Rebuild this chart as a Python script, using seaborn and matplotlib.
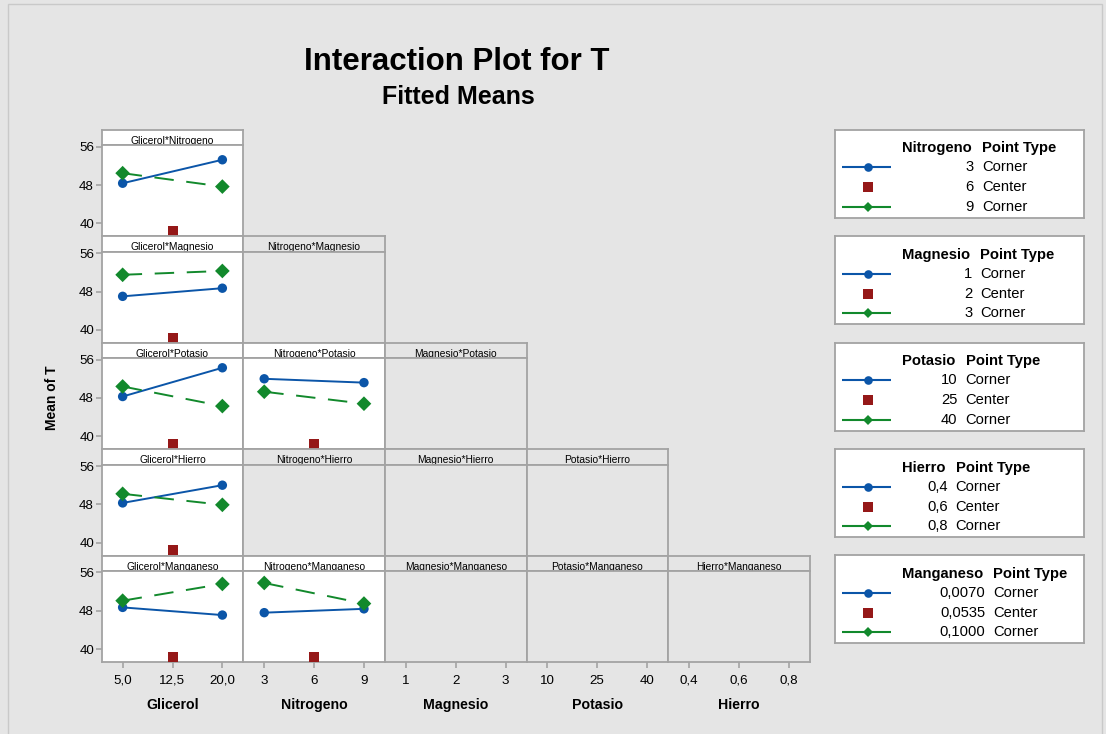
import matplotlib
matplotlib.use("Agg")
import matplotlib.pyplot as plt
import numpy as np
import pandas as pd
import seaborn as sns
from matplotlib.patches import Rectangle

# ---- factor levels and tick text -------------------------------------------
glicerol_levels = [5.0, 12.5, 20.0]
nitrogeno_levels = [3, 6, 9]
magnesio_levels = [1, 2, 3]
potasio_levels = [10, 25, 40]
hierro_levels = [0.4, 0.6, 0.8]
manganeso_levels = [0.0070, 0.0535, 0.1000]

glicerol_ticks = ["5,0", "12,5", "20,0"]
nitrogeno_ticks = ["3", "6", "9"]
magnesio_ticks = ["1", "2", "3"]
potasio_ticks = ["10", "25", "40"]
hierro_ticks = ["0,4", "0,6", "0,8"]
manganeso_ticks = ["0,0070", "0,0535", "0,1000"]

point_types = ["Corner", "Center", "Corner"]

# ---- fitted means: [x factor low, x factor high] for each trace level -------
glic_nitro_low = [48.4, 53.3]
glic_nitro_high = [50.5, 47.7]
glic_magne_low = [47.0, 48.7]
glic_magne_high = [51.5, 52.3]
glic_potas_low = [48.3, 54.3]
glic_potas_high = [50.4, 46.3]
glic_hierro_low = [48.3, 52.0]
glic_hierro_high = [50.2, 47.9]
glic_mangan_low = [48.7, 47.1]
glic_mangan_high = [50.1, 53.6]
nitro_potas_low = [52.0, 51.2]
nitro_potas_high = [49.3, 46.8]
nitro_mangan_low = [47.6, 48.4]
nitro_mangan_high = [53.8, 49.5]
center_mean = 38.4

col_factors = ["Glicerol", "Nitrogeno", "Magnesio", "Potasio", "Hierro"]
row_factors = ["Nitrogeno", "Magnesio", "Potasio", "Hierro", "Manganeso"]
levels = {
    "Glicerol": glicerol_levels, "Nitrogeno": nitrogeno_levels,
    "Magnesio": magnesio_levels, "Potasio": potasio_levels,
    "Hierro": hierro_levels, "Manganeso": manganeso_levels,
}
tick_text = {
    "Glicerol": glicerol_ticks, "Nitrogeno": nitrogeno_ticks,
    "Magnesio": magnesio_ticks, "Potasio": potasio_ticks,
    "Hierro": hierro_ticks, "Manganeso": manganeso_ticks,
}
panels = {
    ("Glicerol", "Nitrogeno"): (glic_nitro_low, glic_nitro_high),
    ("Glicerol", "Magnesio"): (glic_magne_low, glic_magne_high),
    ("Glicerol", "Potasio"): (glic_potas_low, glic_potas_high),
    ("Glicerol", "Hierro"): (glic_hierro_low, glic_hierro_high),
    ("Glicerol", "Manganeso"): (glic_mangan_low, glic_mangan_high),
    ("Nitrogeno", "Potasio"): (nitro_potas_low, nitro_potas_high),
    ("Nitrogeno", "Manganeso"): (nitro_mangan_low, nitro_mangan_high),
}

# ---- style ------------------------------------------------------------------
sns.set_style("white")
plt.rcParams["font.family"] = ["Liberation Sans", "DejaVu Sans"]
plt.rcParams["text.color"] = "black"
plt.rcParams["xtick.labelcolor"] = "black"
plt.rcParams["ytick.labelcolor"] = "black"

BG = "#e5e5e5"
EDGE = "#a3a3a3"
BLUE = "#0b55a8"
GREEN = "#12892c"
RED = "#951818"
palette = {"low": BLUE, "high": GREEN}
markers = {"low": "o", "high": "D"}
msizes = {"low": 46, "high": 56}
dashes = {"low": "", "high": (10.0, 6.5)}

W, H = 1106, 734
fig = plt.figure(figsize=(W / 100, H / 100), dpi=100, facecolor=BG)


def px_rect(x, y, w, h):
    return [x / W, 1 - (y + h) / H, w / W, h / H]


def px(x, y):
    return x / W, 1 - y / H


# outer frame of the graph window
fig.patches.append(Rectangle(px(8, 740), (1102 - 8) / W, (740 - 4) / H,
                             transform=fig.transFigure, fill=False,
                             edgecolor="#c9c9c9", lw=1.0))

X0, CW = 101.7, 141.6
Y0, RH, HH = 130.0, 106.4, 15.4
YLIM = (37.3, 56.3)


def style_spines(ax):
    for s in ax.spines.values():
        s.set_visible(True)
        s.set_color(EDGE)
        s.set_linewidth(1.3)


for r, rf in enumerate(row_factors):
    for c, cf in enumerate(col_factors):
        if c > r:
            continue
        has_data = (cf, rf) in panels
        face = "white" if has_data else BG
        left = X0 + c * CW
        top = Y0 + r * RH

        # strip holding the panel title
        hax = fig.add_axes(px_rect(left, top, CW, HH))
        hax.set_facecolor(face)
        hax.set_xticks([])
        hax.set_yticks([])
        style_spines(hax)
        hax.text(0.5, 1.4 / HH, f"{cf}*{rf}", transform=hax.transAxes,
                 ha="center", va="baseline", fontsize=7.4, color="black",
                 clip_on=False, zorder=5)

        ax = fig.add_axes(px_rect(left, top + HH, CW, RH - HH))
        ax.set_facecolor(face)
        style_spines(ax)
        xl = levels[cf]
        step = xl[2] - xl[1]
        ax.set_xlim(xl[0] - 0.42 * step, xl[2] + 0.42 * step)
        ax.set_ylim(*YLIM)

        if has_data:
            low, high = panels[(cf, rf)]
            df = pd.DataFrame({
                "x": [xl[0], xl[2], xl[0], xl[2]],
                "mean": low + high,
                "trace": ["low", "low", "high", "high"],
            })
            sns.lineplot(data=df, x="x", y="mean", hue="trace", style="trace",
                         palette=palette, dashes=dashes, lw=1.4,
                         legend=False, ax=ax, zorder=3)
            sns.scatterplot(data=df, x="x", y="mean", hue="trace",
                            style="trace", size="trace", sizes=msizes,
                            palette=palette, markers=markers, linewidth=0,
                            legend=False, ax=ax, zorder=4)
            cdf = pd.DataFrame({"x": [xl[1]], "mean": [center_mean]})
            sns.scatterplot(data=cdf, x="x", y="mean", marker="s", s=52,
                            color=RED, linewidth=0, ax=ax, legend=False,
                            zorder=4)
        ax.set_xlabel("")
        ax.set_ylabel("")

        if r == len(row_factors) - 1:
            ax.set_xticks(xl)
            ax.set_xticklabels(tick_text[cf])
            ax.tick_params(axis="x", bottom=True, length=4, width=1.2,
                           color=EDGE, labelsize=9.6, pad=5,
                           labelcolor="black")
        else:
            ax.set_xticks([])
        if c == 0:
            ax.set_yticks([40, 48, 56])
            ax.set_yticklabels(["40", "48", "56"])
            ax.tick_params(axis="y", left=True, length=4, width=1.2,
                           color=EDGE, labelsize=9.6, pad=1.5,
                           labelcolor="black")
        else:
            ax.set_yticks([])

# axis titles
for c, cf in enumerate(col_factors):
    fig.text(*px(X0 + (c + 0.5) * CW, 705), cf, ha="center", va="center",
             fontsize=10.2, fontweight="bold")
fig.text(*px(52, 398), "Mean of T", rotation=90, ha="center", va="center",
         fontsize=10, fontweight="bold")

fig.text(*px(457, 62), "Interaction Plot for T", ha="center", va="center",
         fontsize=22.5, fontweight="bold")
fig.text(*px(458, 97), "Fitted Means", ha="center", va="center",
         fontsize=18, fontweight="bold")

# ---- legends, one per trace factor ----------------------------------------
LX, LW, LH = 835, 249.3, 88
renderer = fig.canvas.get_renderer()
for r, rf in enumerate(row_factors):
    top = Y0 + r * RH - 0.3
    lax = fig.add_axes(px_rect(LX, top, LW, LH))
    lax.set_facecolor("white")
    lax.set_xticks([])
    lax.set_yticks([])
    style_spines(lax)
    lax.set_xlim(0, LW)
    lax.set_ylim(LH, 0)

    ttl = lax.text(66.7, 18.6, rf, ha="left", va="center", fontsize=10.6,
                   fontweight="bold")
    bb = ttl.get_window_extent(renderer)
    right = lax.transData.inverted().transform((bb.x1, bb.y0))[0]
    lax.text(right + 10.5, 18.6, "Point Type", ha="left", va="center",
             fontsize=10.6, fontweight="bold")

    rows_y = [37.6, 57.6, 77.0]
    lax.plot([6.7, 55.7], [rows_y[0]] * 2, color=BLUE, lw=1.5,
             solid_capstyle="butt")
    lax.plot([33], [rows_y[0]], "o", color=BLUE, markersize=6.2, mew=0)
    lax.plot([33], [rows_y[1]], "s", color=RED, markersize=6.8, mew=0)
    lax.plot([6.7, 55.7], [rows_y[2]] * 2, color=GREEN, lw=1.5,
             solid_capstyle="butt")
    lax.plot([33], [rows_y[2]], "D", color=GREEN, markersize=5.4, mew=0)

    for y, val, pt in zip(rows_y, tick_text[rf], point_types):
        lax.text(right + 2.5, y, val, ha="right", va="center", fontsize=10.6)
        lax.text(right + 10.5, y, pt, ha="left", va="center", fontsize=10.6)

fig.savefig("out.png", dpi=100, facecolor=BG)
